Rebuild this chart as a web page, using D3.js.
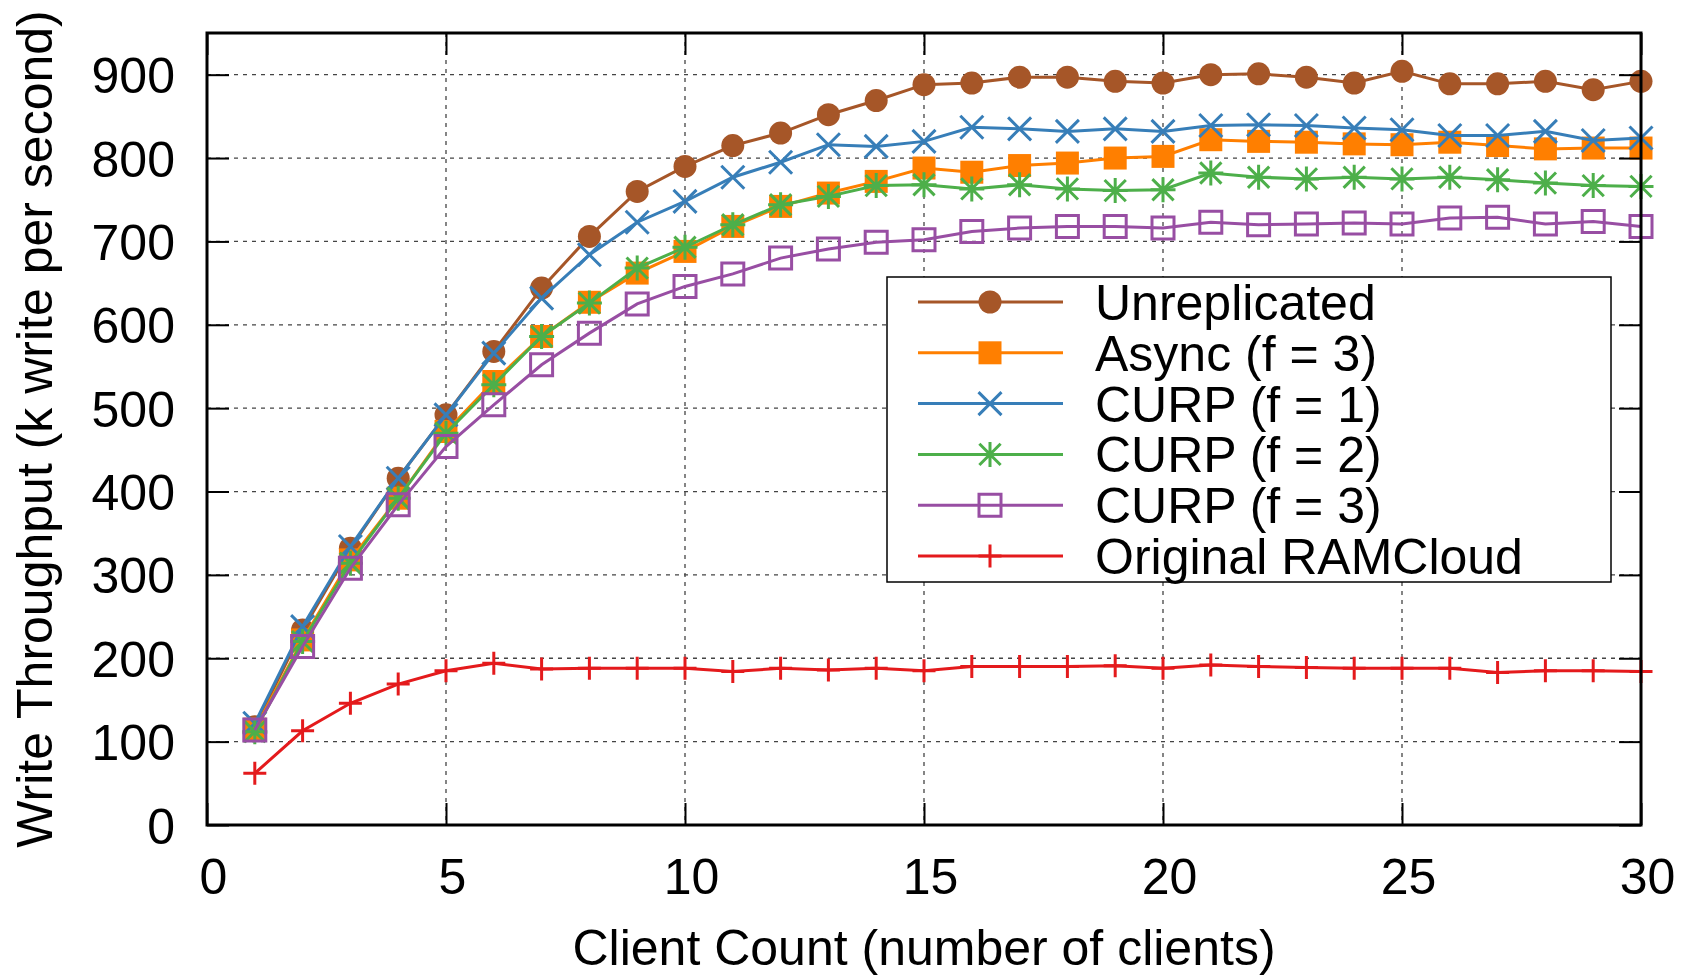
<!DOCTYPE html>
<html>
<head>
<meta charset="utf-8">
<script src="https://cdn.jsdelivr.net/npm/d3@7"></script>
<style>
    body { margin: 0; background: #fff; }
    svg { display: block; }
    text { font-family: "Liberation Sans", Arial, Helvetica, sans-serif; fill: #000; }
</style>
</head>
<body>
<div id="chart"></div>
<script>
// client count on the x axis
const clientCounts = [1, 2, 3, 4, 5, 6, 7, 8, 9, 10, 11, 12, 13, 14, 15,
    16, 17, 18, 19, 20, 21, 22, 23, 24, 25, 26, 27, 28, 29, 30];

// write throughput, k writes per second
const unreplicated = [118, 234, 332, 416, 492, 568, 644, 706, 760, 790, 815, 830, 852, 869, 888,
    890, 897, 897, 892, 890, 900, 901, 897, 890, 904, 889, 889, 892, 882, 892];
const asyncF3 = [115, 222, 318, 392, 472, 532, 586, 627, 662, 688, 718, 742, 758, 772, 788,
    783, 791, 794, 800, 802, 822, 820, 819, 817, 816, 819, 815, 811, 812, 812];
const curpF1 = [122, 238, 334, 416, 492, 566, 632, 684, 723, 748, 777, 795, 816, 814, 820,
    837, 835, 832, 835, 832, 839, 840, 839, 836, 834, 827, 827, 832, 821, 824];
const curpF2 = [112, 220, 314, 392, 470, 528, 586, 626, 668, 693, 720, 744, 754, 767, 768,
    763, 768, 763, 761, 762, 782, 777, 775, 777, 775, 777, 774, 770, 767, 766];
const curpF3 = [114, 214, 308, 384, 454, 504, 552, 590, 625, 646, 661, 680, 691, 699, 702,
    712, 716, 718, 718, 716, 723, 720, 721, 722, 721, 728, 729, 721, 724, 718];
const originalRAMCloud = [62, 113, 146, 169, 185, 194, 187, 188, 188, 188, 184, 188, 186, 188, 185,
    190, 190, 190, 191, 188, 192, 190, 189, 188, 188, 188, 183, 185, 185, 184];

const seriesNames = ["Unreplicated", "Async (f = 3)", "CURP (f = 1)", "CURP (f = 2)", "CURP (f = 3)", "Original RAMCloud"];
const seriesValues = [unreplicated, asyncF3, curpF1, curpF2, curpF3, originalRAMCloud];
const seriesColors = ["#a65628", "#ff7f00", "#377eb8", "#4daf4a", "#984ea3", "#e41a1c"];
const seriesMarkers = ["circle", "square", "times", "asterisk", "openSquare", "plus"];

const xTicks = [0, 5, 10, 15, 20, 25, 30];
const yTicks = [0, 100, 200, 300, 400, 500, 600, 700, 800, 900];

const width = 1689, height = 977;
const plot = { left: 207, right: 1641, top: 33, bottom: 825 };

const svg = d3.select("#chart").append("svg")
    .attr("width", width)
    .attr("height", height);

const x = d3.scaleLinear().domain([0, 30]).range([plot.left, plot.right]);
const y = d3.scaleLinear().domain([0, 950]).range([plot.bottom, plot.top]);

// grid
let grid = svg.append("g")
    .attr("stroke", "#444")
    .attr("stroke-width", 1.3)
    .attr("stroke-dasharray", "4,5");
grid.selectAll("line.h")
    .data(yTicks.filter(v => v > 0))
    .enter().append("line")
    .attr("x1", plot.left).attr("x2", plot.right)
    .attr("y1", d => y(d)).attr("y2", d => y(d));
grid.selectAll("line.v")
    .data(xTicks.filter(v => v > 0 && v < 30))
    .enter().append("line")
    .attr("y1", plot.top).attr("y2", plot.bottom)
    .attr("x1", d => x(d)).attr("x2", d => x(d));

// marker shapes, h = half size
function markerPath(type, h) {
    const p = d3.path();
    if (type === "circle") {
        p.moveTo(h, 0);
        p.arc(0, 0, h, 0, 2 * Math.PI);
    } else if (type === "square" || type === "openSquare") {
        p.rect(-h, -h, 2 * h, 2 * h);
    } else if (type === "times") {
        p.moveTo(-h, -h); p.lineTo(h, h);
        p.moveTo(-h, h); p.lineTo(h, -h);
    } else if (type === "plus") {
        p.moveTo(-h, 0); p.lineTo(h, 0);
        p.moveTo(0, -h); p.lineTo(0, h);
    } else if (type === "asterisk") {
        p.moveTo(-h, 0); p.lineTo(h, 0);
        p.moveTo(0, -h); p.lineTo(0, h);
        p.moveTo(-h * 0.85, -h * 0.85); p.lineTo(h * 0.85, h * 0.85);
        p.moveTo(-h * 0.85, h * 0.85); p.lineTo(h * 0.85, -h * 0.85);
    }
    return p.toString();
}

function drawMarker(sel, type, color) {
    const filled = type === "circle" || type === "square";
    let h = 11.5;
    if (type === "openSquare") h = 11;
    if (type === "asterisk") h = 12.5;
    sel.append("path")
        .attr("d", markerPath(type, h))
        .attr("fill", filled ? color : "none")
        .attr("stroke", filled ? "none" : color)
        .attr("stroke-width", 3);
}

const line = d3.line()
    .x(d => x(d.x))
    .y(d => y(d.y));

const series = seriesNames.map((name, i) => ({
    name: name,
    color: seriesColors[i],
    marker: seriesMarkers[i],
    points: clientCounts.map((c, j) => ({ x: c, y: seriesValues[i][j] }))
}));

let seriesG = svg.append("g").attr("id", "series");
series.forEach(s => {
    let g = seriesG.append("g");
    g.append("path")
        .datum(s.points)
        .attr("d", line)
        .attr("fill", "none")
        .attr("stroke", s.color)
        .attr("stroke-width", 3);
    g.selectAll("g.pt")
        .data(s.points)
        .enter().append("g")
        .attr("transform", d => `translate(${x(d.x)},${y(d.y)})`)
        .each(function () { drawMarker(d3.select(this), s.marker, s.color); });
});

// axes with inward ticks on all sides
const tickLen = 22;
let leftAxis = svg.append("g")
    .attr("transform", `translate(${plot.left},0)`)
    .call(d3.axisLeft(y).tickValues(yTicks).tickSize(-tickLen).tickSizeOuter(0).tickPadding(32));
let bottomAxis = svg.append("g")
    .attr("transform", `translate(0,${plot.bottom})`)
    .call(d3.axisBottom(x).tickValues(xTicks).tickSize(-tickLen).tickSizeOuter(0).tickPadding(33));
let rightAxis = svg.append("g")
    .attr("transform", `translate(${plot.right},0)`)
    .call(d3.axisRight(y).tickValues(yTicks).tickSize(-tickLen).tickSizeOuter(0).tickFormat(""));
let topAxis = svg.append("g")
    .attr("transform", `translate(0,${plot.top})`)
    .call(d3.axisTop(x).tickValues(xTicks).tickSize(-tickLen).tickSizeOuter(0).tickFormat(""));

[leftAxis, bottomAxis, rightAxis, topAxis].forEach(a => {
    a.select(".domain").remove();
    a.selectAll(".tick line").attr("stroke", "#000").attr("stroke-width", 2);
    a.selectAll("text")
        .attr("font-family", "'Liberation Sans', Arial, Helvetica, sans-serif")
        .attr("font-size", 50)
        .attr("fill", "#000");
});
leftAxis.selectAll("text").attr("dy", "0.36em");
bottomAxis.selectAll("text").attr("dx", 6);

svg.append("rect")
    .attr("x", plot.left).attr("y", plot.top)
    .attr("width", plot.right - plot.left)
    .attr("height", plot.bottom - plot.top)
    .attr("fill", "none")
    .attr("stroke", "#000")
    .attr("stroke-width", 3);

// axis titles
svg.append("text")
    .attr("x", (plot.left + plot.right) / 2)
    .attr("y", 965)
    .attr("text-anchor", "middle")
    .attr("font-size", 50)
    .text("Client Count (number of clients)");

svg.append("text")
    .attr("transform", `translate(52,${(plot.top + plot.bottom) / 2}) rotate(-90)`)
    .attr("text-anchor", "middle")
    .attr("font-size", 50)
    .text("Write Throughput (k write per second)");

// legend
const legend = { x0: 887, x1: 1611, y0: 277, y1: 582, row0: 302, rowGap: 50.8 };
let legendG = svg.append("g").attr("id", "legend");
legendG.append("rect")
    .attr("x", legend.x0).attr("y", legend.y0)
    .attr("width", legend.x1 - legend.x0)
    .attr("height", legend.y1 - legend.y0)
    .attr("fill", "#fff")
    .attr("stroke", "#000")
    .attr("stroke-width", 1.5);

let items = legendG.selectAll("g.item")
    .data(series)
    .enter().append("g")
    .attr("transform", (d, i) => `translate(0,${legend.row0 + i * legend.rowGap})`);
items.append("line")
    .attr("x1", 918).attr("x2", 1063)
    .attr("stroke", d => d.color)
    .attr("stroke-width", 3);
items.append("g")
    .attr("transform", "translate(990,0)")
    .each(function (d) { drawMarker(d3.select(this), d.marker, d.color); });
items.append("text")
    .attr("x", 1095)
    .attr("y", 18)
    .attr("font-size", 50)
    .text(d => d.name);
</script>
</body>
</html>
